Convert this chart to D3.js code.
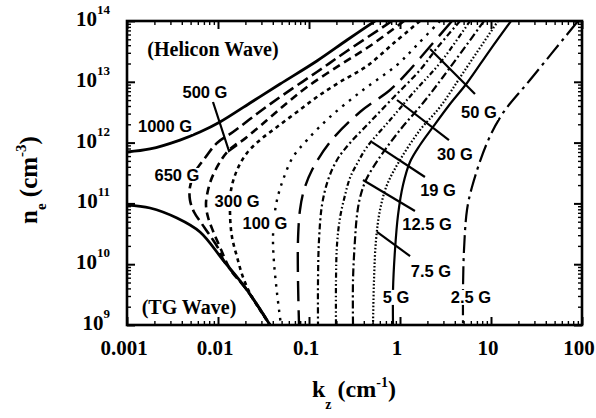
<!DOCTYPE html>
<html lang="en">
<head>
<meta charset="UTF-8">
<title>Helicon and TG wave dispersion</title>
<style>
  body { margin: 0; background: #fff; }
  svg { display: block; }
  .tick-label { font-family: "Liberation Serif", "Times New Roman", serif; font-weight: bold; font-size: 21px; fill: #000; }
  .axis-title { font-family: "Liberation Serif", "Times New Roman", serif; font-weight: bold; fill: #000; }
  .field-label { font-family: "Liberation Sans", Arial, sans-serif; font-weight: bold; font-size: 16.5px; fill: #000; }
  .wave-label { font-family: "Liberation Serif", "Times New Roman", serif; font-weight: bold; font-size: 20px; fill: #000; }
</style>
<script src="https://d3js.org/d3.v7.min.js"></script>
</head>
<body>
<svg width="596" height="418"></svg>
<script>
// axis ticks
const kzMajor = [0.001, 0.01, 0.1, 1, 10, 100];
const kzMajorLabels = ["0.001", "0.01", "0.1", "1", "10", "100"];
const neMajor = [1e9, 1e10, 1e11, 1e12, 1e13, 1e14];
const neExponents = ["9", "10", "11", "12", "13", "14"];

// curves: [kz (cm^-1), ne (cm^-3)]
const b1000Helicon = [[0.001,7.0e11],[0.00179,7.85e11],[0.00382,1.10e12],[0.00634,1.49e12],[0.0105,2.18e12],[0.0225,4.48e12],[0.048,9.2e12],[0.122,2.2e13],[0.262,4.87e13],[0.531,1e14]];
const b1000TG = [[0.001,9.4e10],[0.00179,8.4e10],[0.00354,5.75e10],[0.00634,3.39e10],[0.01135,1.17e10],[0.0208,3.77e9],[0.0373,1e9]];
const b650 = [[0.817,1e14],[0.262,3.21e13],[0.122,1.45e13],[0.0518,6.07e12],[0.0275,3.07e12],[0.0146,1.49e12],[0.00975,9.85e11],[0.00719,5.58e11],[0.00559,3.28e11],[0.00492,1.86e11],[0.00492,1.14e11],[0.00545,7.22e10],[0.00667,4.58e10],[0.00838,2.80e10],[0.01,1.85e10],[0.01164,1.13e10],[0.0208,3.77e9],[0.0373,1e9]];
const b500 = [[1.107,1e14],[0.468,3.88e13],[0.219,1.89e13],[0.0951,8.21e12],[0.0573,4.48e12],[0.0346,2.35e12],[0.0188,1.10e12],[0.0154,9.13e11],[0.0129,7.28e11],[0.0105,4.80e11],[0.00838,2.43e11],[0.00757,1.37e11],[0.00738,9.4e10],[0.00776,5.97e10],[0.00881,3.52e10],[0.0105,1.92e10],[0.01355,8.34e9],[0.0208,3.77e9],[0.0373,1e9]];
const b300 = [[1.659,1e14],[0.881,4.51e13],[0.434,1.82e13],[0.219,9.93e12],[0.122,5.62e12],[0.0738,3.19e12],[0.0445,1.81e12],[0.0289,1.10e12],[0.0208,6.75e11],[0.0162,3.54e11],[0.0139,1.66e11],[0.01355,6.95e10],[0.01425,2.80e10],[0.0162,1.31e10],[0.0188,6.16e9],[0.0236,2.89e9],[0.0373,1e9]];
const b100 = [[2.75,1e14],[1.538,4.03e13],[0.927,1.89e13],[0.392,7.33e12],[0.170,2.64e12],[0.0951,1.10e12],[0.0667,5.80e11],[0.0518,2.43e11],[0.0445,1.14e11],[0.0412,5.33e10],[0.0402,2.50e10],[0.0412,1.09e10],[0.0445,3.36e9],[0.0492,1e9]];
const b50 = [[3.727,1e14],[2.305,4.35e13],[1.194,1.40e13],[0.777,7.33e12],[0.363,3.19e12],[0.170,1.02e12],[0.108,3.54e11],[0.0881,1.66e11],[0.0796,7.79e10],[0.0757,2.50e10],[0.0757,5.50e9],[0.0777,1e9]];
const b30 = [[4.563,1e14],[2.551,3.60e13],[1.659,1.56e13],[0.838,5.42e12],[0.468,2.18e12],[0.282,9.85e11],[0.203,5.17e11],[0.162,2.43e11],[0.139,9.4e10],[0.1288,2.50e10],[0.1256,5.50e9],[0.1256,1e9]];
const b19 = [[5.878,1e14],[2.752,2.04e13],[1.390,6.54e12],[0.777,2.35e12],[0.434,8.47e11],[0.3455,4.80e11],[0.282,2.62e11],[0.249,1.37e11],[0.219,5.75e10],[0.203,2.07e10],[0.198,5.50e9],[0.198,1e9]];
const b12_5 = [[8.377,1e14],[2.969,1.20e13],[1.789,4.48e12],[1.0,1.61e12],[0.603,5.80e11],[0.423,2.43e11],[0.363,1.23e11],[0.337,6.44e10],[0.320,2.50e10],[0.3045,5.50e9],[0.3045,1e9]];
const b7_5 = [[11.94,1e14],[5.179,1.56e13],[2.752,3.85e12],[1.659,1.61e12],[1.0,5.17e11],[0.719,2.01e11],[0.603,7.79e10],[0.545,2.50e10],[0.518,5.50e9],[0.505,1e9]];
const b5 = [[16.59,1e14],[9.75,3.33e13],[5.448,9.56e12],[3.544,4.32e12],[2.305,1.81e12],[1.659,9.13e11],[1.288,4.80e11],[1.079,2.01e11],[0.951,6.44e10],[0.881,1.71e10],[0.838,3.77e9],[0.838,1e9]];
const b2_5 = [[90.37,1e14],[26.83,1.07e13],[13.55,3.07e12],[9.037,9.85e11],[6.181,1.86e11],[5.448,7.79e10],[5.05,1.71e10],[4.924,3.77e9],[4.924,1e9]];

// field labels and the leader lines that point at their curve
const fieldNames = ["1000 G", "650 G", "500 G", "300 G", "100 G", "50 G", "30 G", "19 G", "12.5 G", "7.5 G", "5 G", "2.5 G"];
const fieldLabelAt = [[0.00262,1.88e12],[0.00354,2.93e11],[0.00719,6.8e12],[0.0162,1.09e11],[0.0328,4.76e10],[7.38,3.19e12],[4.02,6.5e11],[2.62,1.66e11],[1.98,4.58e10],[2.19,7.7e9],[0.904,2.89e9],[6.03,2.89e9]];
const leaderLines = [
  [[0.00881,4.65e12],[0.0132,7.28e11],[0.0162,9.1e11]],
  [[2.14,3.46e13],[6.67,6.3e12]],
  [[0.927,5.02e12],[3.45,1.10e12]],
  [[0.492,1.02e12],[1.88,2.72e11]],
  [[0.392,2.43e11],[1.46,7.5e10]],
  [[0.558,3.39e10],[1.29,1.36e10]]
];
const waveNames = ["(Helicon Wave)", "(TG Wave)"];
const waveLabelAt = [[0.00881,3.46e13],[0.0048,1.98e9]];

const series = [
  { data: b1000Helicon, dash: null, w: 2.8 },
  { data: b1000TG, dash: null, w: 2.8 },
  { data: b650, dash: "12,5", w: 2.6 },
  { data: b500, dash: "8,5", w: 2.6 },
  { data: b300, dash: "4,4", w: 2.6 },
  { data: b100, dash: "2.5,6", w: 2.4 },
  { data: b50, dash: "20,9", w: 2.4 },
  { data: b30, dash: "6,3,2,3", w: 2.2 },
  { data: b19, dash: "5,2.5,1.5,2.5,1.5,2.5", w: 2.2 },
  { data: b12_5, dash: "8,3,2,3", w: 2.2 },
  { data: b7_5, dash: "1.6,2", w: 2.2 },
  { data: b5, dash: null, w: 2.2 },
  { data: b2_5, dash: "18,5,3,5", w: 2.2 }
];

const svg = d3.select("svg");
const plotLeft = 127, plotRight = 582, plotTop = 21, plotBottom = 325;

const x = d3.scaleLog().domain([0.001, 100]).range([plotLeft, plotRight]);
const y = d3.scaleLog().domain([1e9, 1e14]).range([plotBottom, plotTop]);

const isMajor = v => Math.abs(Math.log10(v) - Math.round(Math.log10(v))) < 1e-6;
const xMinor = x.ticks().filter(v => !isMajor(v));
const yMinor = y.ticks().filter(v => !isMajor(v));

function tickAxis(axis, t, values, size, sw) {
  svg.append("g")
    .attr("transform", t)
    .call(axis.tickValues(values).tickSize(-size).tickFormat(""))
    .call(g => g.select(".domain").remove())
    .call(g => g.selectAll("line").attr("stroke", "#000").attr("stroke-width", sw));
}
tickAxis(d3.axisBottom(x), `translate(0,${plotBottom})`, xMinor, 4, 1.4);
tickAxis(d3.axisBottom(x), `translate(0,${plotBottom})`, kzMajor, 8, 2);
tickAxis(d3.axisTop(x), `translate(0,${plotTop})`, xMinor, 4, 1.4);
tickAxis(d3.axisTop(x), `translate(0,${plotTop})`, kzMajor, 8, 2);
tickAxis(d3.axisLeft(y), `translate(${plotLeft},0)`, yMinor, 4, 1.4);
tickAxis(d3.axisLeft(y), `translate(${plotLeft},0)`, neMajor, 8, 2);
tickAxis(d3.axisRight(y), `translate(${plotRight},0)`, yMinor, 4, 1.4);
tickAxis(d3.axisRight(y), `translate(${plotRight},0)`, neMajor, 8, 2);

// curves
svg.append("clipPath").attr("id", "plot-clip")
  .append("rect").attr("x", plotLeft).attr("y", plotTop)
  .attr("width", plotRight - plotLeft).attr("height", plotBottom - plotTop);

const line = d3.line()
  .x(d => x(d[0]))
  .y(d => y(d[1]))
  .curve(d3.curveCatmullRom.alpha(0.5));

svg.append("g").attr("clip-path", "url(#plot-clip)")
  .selectAll("path")
  .data(series)
  .enter().append("path")
  .attr("d", d => line(d.data))
  .attr("fill", "none")
  .attr("stroke", "#000")
  .attr("stroke-width", d => d.w)
  .attr("stroke-dasharray", d => d.dash);

// leader lines
svg.append("g")
  .selectAll("path")
  .data(leaderLines)
  .enter().append("path")
  .attr("d", d3.line().x(d => x(d[0])).y(d => y(d[1])))
  .attr("fill", "none")
  .attr("stroke", "#000")
  .attr("stroke-width", 2.2);

// frame
svg.append("rect")
  .attr("x", plotLeft).attr("y", plotTop)
  .attr("width", plotRight - plotLeft).attr("height", plotBottom - plotTop)
  .attr("fill", "none").attr("stroke", "#000").attr("stroke-width", 2.6);

// field labels, masking the curves behind them
const labelG = svg.append("g");
fieldNames.forEach((name, i) => {
  const g = labelG.append("g");
  const t = g.append("text")
    .attr("class", "field-label")
    .attr("x", x(fieldLabelAt[i][0]))
    .attr("y", y(fieldLabelAt[i][1]))
    .attr("dy", "0.36em")
    .attr("text-anchor", "middle")
    .text(name);
  const bb = t.node().getBBox();
  g.insert("rect", "text")
    .attr("x", bb.x - 1).attr("y", bb.y + 2)
    .attr("width", bb.width + 2).attr("height", bb.height - 3)
    .attr("fill", "#fff");
});

waveNames.forEach((name, i) => {
  svg.append("text")
    .attr("class", "wave-label")
    .attr("x", x(waveLabelAt[i][0]))
    .attr("y", y(waveLabelAt[i][1]))
    .attr("dy", "0.35em")
    .attr("text-anchor", "middle")
    .text(name);
});

// tick labels
svg.append("g").selectAll("text")
  .data(kzMajor)
  .enter().append("text")
  .attr("class", "tick-label")
  .attr("x", d => x(d) - 3)
  .attr("y", 355)
  .attr("text-anchor", "middle")
  .text((d, i) => kzMajorLabels[i]);

const yLab = svg.append("g").selectAll("text")
  .data(neMajor)
  .enter().append("text")
  .attr("class", "tick-label")
  .attr("x", 110)
  .attr("y", d => y(d) + 5)
  .attr("text-anchor", "end");
yLab.append("tspan").text("10");
yLab.append("tspan").attr("dy", -12).style("font-size", "13px").text((d, i) => neExponents[i]);

// axis titles
const xt = svg.append("text").attr("class", "axis-title")
  .attr("x", 312).attr("y", 397).style("font-size", "24px");
xt.append("tspan").text("k");
xt.append("tspan").attr("dy", 12).style("font-size", "14px").text("z");
xt.append("tspan").attr("dy", -12).text(" (cm");
xt.append("tspan").attr("dy", -10).style("font-size", "14px").text("-1");
xt.append("tspan").attr("dy", 10).text(")");

const yt = svg.append("text").attr("class", "axis-title")
  .attr("transform", "translate(37,224) rotate(-90)").style("font-size", "25px");
yt.append("tspan").text("n");
yt.append("tspan").attr("dy", 9).style("font-size", "15px").text("e");
yt.append("tspan").attr("dy", -9).text(" (cm");
yt.append("tspan").attr("dy", -11).style("font-size", "15px").text("-3");
yt.append("tspan").attr("dy", 11).text(")");
</script>
</body>
</html>
